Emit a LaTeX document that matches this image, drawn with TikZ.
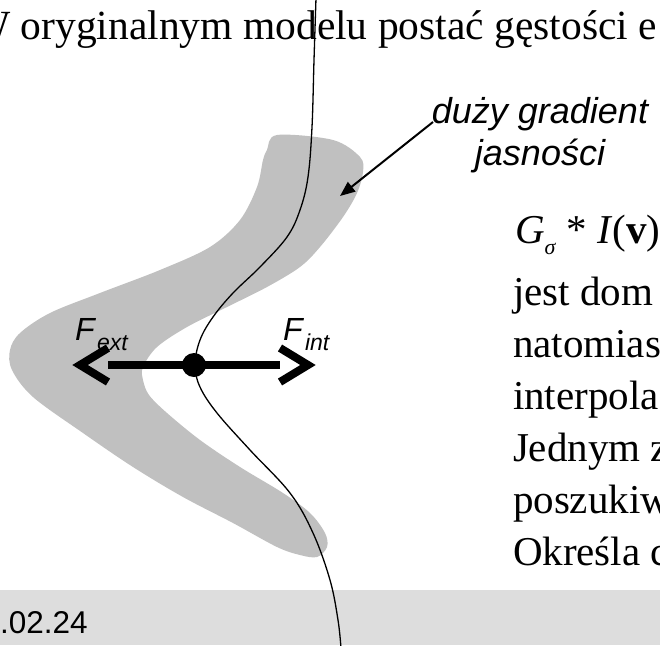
\documentclass[tikz,border=0pt]{standalone}
\usepackage{fontspec}
\setmainfont{Liberation Serif}
\setsansfont{Liberation Sans}
\usetikzlibrary{arrows.meta}
\definecolor{shapegray}{HTML}{C0C0C0}
\definecolor{bandgray}{HTML}{DDDDDD}
\tikzset{
  txt/.style={inner sep=0pt, outer sep=0pt, anchor=base west},
  serifbig/.style={font=\fontsize{41.5pt}{50pt}\selectfont},
  bodytxt/.style={txt, font=\fontsize{41pt}{50pt}\selectfont},
  annot/.style={inner sep=0pt, anchor=base, font=\sffamily\itshape\fontsize{36pt}{42pt}\selectfont},
  flabel/.style={txt, font=\sffamily\fontsize{32pt}{36pt}\selectfont},
  thickbar/.style={line width=8.5pt},
  chevron/.style={line width=8pt, miter limit=10},
}
\newcommand{\fsub}[1]{\raisebox{-10pt}{\fontsize{23pt}{25pt}\selectfont\textit{#1}}}
\begin{document}
\begin{tikzpicture}[x=1pt,y=-1pt]
\useasboundingbox (0,0) rectangle (660,645);
\clip (0,0) rectangle (660,645);
\fill[white] (0,0) rectangle (660,645);

% gray region (large brightness gradient)
\fill[shapegray] plot[smooth cycle, tension=0.55] coordinates {
 (267,150) (277,135) (333,140) (360,157) (363,172) (357,193) (343,217)
 (320,247) (300,267) (267,287) (227,307) (187,327) (157,347) (143,367)
 (143,380) (149,395) (167,413) (200,440) (240,467) (283,493) (310,513)
 (325,533) (327,547) (317,557) (300,555) (277,547) (233,523) (183,497)
 (133,467) (83,433) (33,397) (12,370) (10,350) (20,333) (50,313)
 (100,293) (160,270) (210,247) (240,220) (257,187) (263,160)};

% footer band
\fill[bandgray] (0,590) rectangle (660,645);
\node[txt, font=\sffamily\fontsize{31.5pt}{36pt}\selectfont] (date) at (0,633) {.02.24};

% contour curve
\draw[line width=1.3pt] plot[smooth, tension=0.6] coordinates {
 (316,-2) (314,60) (312,127) (308,177) (300,210) (287,237) (260,267)
 (233,293) (213,317) (200,340) (195,365) (200,387) (217,413) (250,450)
 (290,493) (313,533) (330,580) (338,620) (341,648)};

% top text
\node[txt, serifbig] (title) at (-28.8,39) {W oryginalnym modelu postać gęstości e};

% annotation
\node[annot] (gradA) at (540,123) {duży gradient};
\node[annot] (gradB) at (540,165) {jasności};
\coordinate (leadstart) at (433,122);
\coordinate (leadtip) at (340,196);
\draw[line width=2pt, -{Triangle[length=15pt,width=12pt]}] (leadstart) -- (leadtip);

% forces
\coordinate (fext) at (108,365);
\coordinate (fint) at (280,365);
\draw[thickbar] (fext) -- (fint);
\coordinate (extA) at (108,348);
\coordinate (extT) at (80,365);
\coordinate (extB) at (108,382);
\coordinate (intA) at (280,348);
\coordinate (intT) at (308,365);
\coordinate (intB) at (280,382);
\draw[chevron] (extA) -- (extT) -- (extB);
\draw[chevron] (intA) -- (intT) -- (intB);
\node[circle, fill=black, inner sep=0pt, minimum size=24pt] (pt) at (194,365) {};
\node[flabel] (Lext) at (75,340) {\textit{F}\kern1pt\fsub{ext}};
\node[flabel] (Lint) at (283,340) {\textit{F}\kern1pt\fsub{int}};

% right text column
\node[bodytxt] (l1) at (515,243) {\textit{G}\raisebox{-11pt}{\fontsize{22pt}{24pt}\selectfont\textit{σ}} * \textit{I}(\textbf{v})};
\node[bodytxt] (l2) at (513,305) {jest dom};
\node[bodytxt] (l3) at (513,357) {natomias};
\node[bodytxt] (l4) at (513,409) {interpola};
\node[bodytxt] (l5) at (513,461) {Jednym z};
\node[bodytxt] (l6) at (513,513) {poszukiw};
\node[bodytxt] (l7) at (513,565) {Określa c};
\end{tikzpicture}
\end{document}
